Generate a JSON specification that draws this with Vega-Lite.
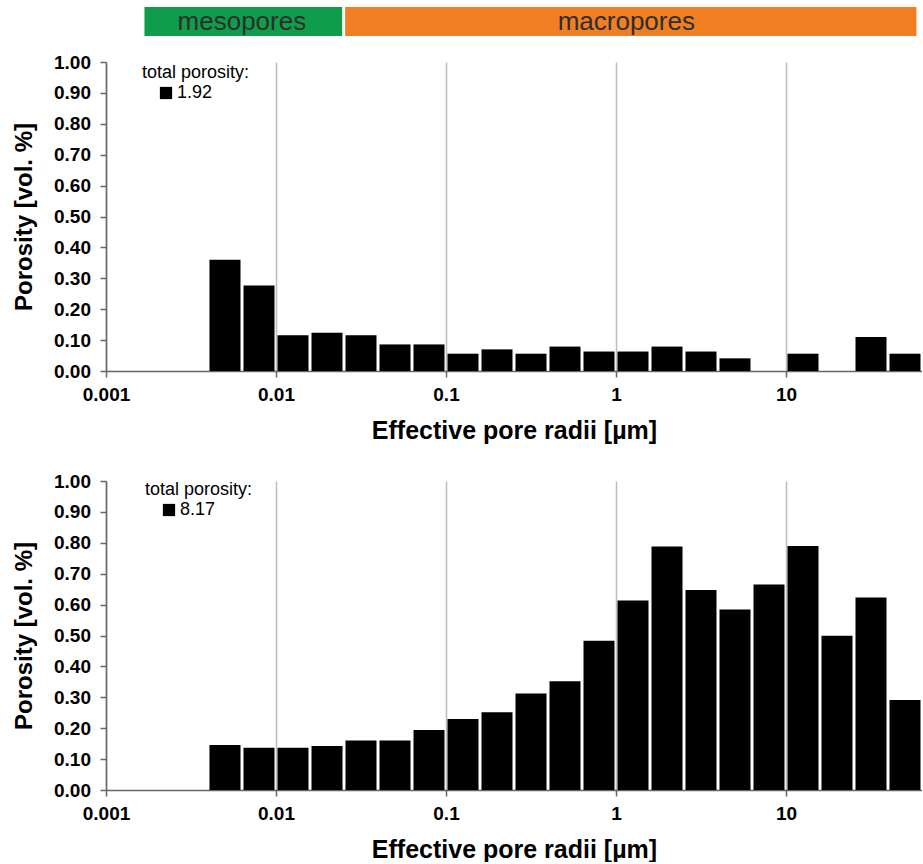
{
  "$schema": "https://vega.github.io/schema/vega-lite/v6.json",
  "background": "white",
  "padding": {"top": 7, "left": 12, "right": 0, "bottom": 0},
  "config": {
    "view": {"stroke": null},
    "font": "Liberation Sans",
    "axis": {
      "domainColor": "#666666",
      "domainWidth": 1.5,
      "tickColor": "#666666",
      "tickWidth": 1.5,
      "tickSize": 6,
      "labelFont": "Liberation Sans",
      "labelFontWeight": "bold",
      "labelFontSize": 19,
      "labelColor": "black",
      "titleFont": "Liberation Sans",
      "titleFontSize": 24,
      "titleFontWeight": "bold",
      "titleColor": "black"
    },
    "legend": {
      "orient": "none",
      "titleFont": "Liberation Sans",
      "titleFontSize": 18,
      "titleFontWeight": "normal",
      "titleColor": "black",
      "titlePadding": 2,
      "labelFont": "Liberation Sans",
      "labelFontSize": 18,
      "labelColor": "black",
      "labelOffset": 2,
      "symbolType": "square",
      "symbolSize": 150,
      "symbolStrokeWidth": 0,
      "symbolOffset": 15,
      "padding": 0
    }
  },
  "datasets": {
    "bands": [
      {"band": "mesopores", "lo": 0.00165, "hi": 0.025, "mid": 0.0063},
      {"band": "macropores", "lo": 0.025, "hi": 59.7, "mid": 1.15}
    ],
    "bins": [
      {"total": "1.92", "lo": 0.00398, "hi": 0.00631, "porosity": 0.360},
      {"total": "1.92", "lo": 0.00631, "hi": 0.01, "porosity": 0.277},
      {"total": "1.92", "lo": 0.01, "hi": 0.01585, "porosity": 0.116},
      {"total": "1.92", "lo": 0.01585, "hi": 0.02512, "porosity": 0.124},
      {"total": "1.92", "lo": 0.02512, "hi": 0.03981, "porosity": 0.116},
      {"total": "1.92", "lo": 0.03981, "hi": 0.0631, "porosity": 0.086},
      {"total": "1.92", "lo": 0.0631, "hi": 0.1, "porosity": 0.086},
      {"total": "1.92", "lo": 0.1, "hi": 0.1585, "porosity": 0.056},
      {"total": "1.92", "lo": 0.1585, "hi": 0.2512, "porosity": 0.070},
      {"total": "1.92", "lo": 0.2512, "hi": 0.3981, "porosity": 0.056},
      {"total": "1.92", "lo": 0.3981, "hi": 0.631, "porosity": 0.079},
      {"total": "1.92", "lo": 0.631, "hi": 1, "porosity": 0.063},
      {"total": "1.92", "lo": 1, "hi": 1.585, "porosity": 0.063},
      {"total": "1.92", "lo": 1.585, "hi": 2.512, "porosity": 0.079},
      {"total": "1.92", "lo": 2.512, "hi": 3.981, "porosity": 0.063},
      {"total": "1.92", "lo": 3.981, "hi": 6.31, "porosity": 0.041},
      {"total": "1.92", "lo": 6.31, "hi": 10, "porosity": 0},
      {"total": "1.92", "lo": 10, "hi": 15.85, "porosity": 0.056},
      {"total": "1.92", "lo": 15.85, "hi": 25.12, "porosity": 0},
      {"total": "1.92", "lo": 25.12, "hi": 39.81, "porosity": 0.110},
      {"total": "1.92", "lo": 39.81, "hi": 63.0957, "porosity": 0.056},
      {"total": "8.17", "lo": 0.00398, "hi": 0.00631, "porosity": 0.146},
      {"total": "8.17", "lo": 0.00631, "hi": 0.01, "porosity": 0.137},
      {"total": "8.17", "lo": 0.01, "hi": 0.01585, "porosity": 0.137},
      {"total": "8.17", "lo": 0.01585, "hi": 0.02512, "porosity": 0.142},
      {"total": "8.17", "lo": 0.02512, "hi": 0.03981, "porosity": 0.160},
      {"total": "8.17", "lo": 0.03981, "hi": 0.0631, "porosity": 0.160},
      {"total": "8.17", "lo": 0.0631, "hi": 0.1, "porosity": 0.194},
      {"total": "8.17", "lo": 0.1, "hi": 0.1585, "porosity": 0.230},
      {"total": "8.17", "lo": 0.1585, "hi": 0.2512, "porosity": 0.252},
      {"total": "8.17", "lo": 0.2512, "hi": 0.3981, "porosity": 0.312},
      {"total": "8.17", "lo": 0.3981, "hi": 0.631, "porosity": 0.352},
      {"total": "8.17", "lo": 0.631, "hi": 1, "porosity": 0.483},
      {"total": "8.17", "lo": 1, "hi": 1.585, "porosity": 0.613},
      {"total": "8.17", "lo": 1.585, "hi": 2.512, "porosity": 0.788},
      {"total": "8.17", "lo": 2.512, "hi": 3.981, "porosity": 0.647},
      {"total": "8.17", "lo": 3.981, "hi": 6.31, "porosity": 0.584},
      {"total": "8.17", "lo": 6.31, "hi": 10, "porosity": 0.665},
      {"total": "8.17", "lo": 10, "hi": 15.85, "porosity": 0.790},
      {"total": "8.17", "lo": 15.85, "hi": 25.12, "porosity": 0.499},
      {"total": "8.17", "lo": 25.12, "hi": 39.81, "porosity": 0.623},
      {"total": "8.17", "lo": 39.81, "hi": 63.0957, "porosity": 0.291}
    ]
  },
  "spacing": 17,
  "resolve": {"scale": {"x": "independent", "y": "independent", "fill": "independent"}, "legend": {"fill": "independent"}},
  "vconcat": [
    {
      "width": 816,
      "height": 29,
      "data": {"name": "bands"},
      "layer": [
        {
          "mark": {"type": "rect", "xOffset": 1.5, "x2Offset": -1.5},
          "encoding": {
            "x": {"field": "lo", "type": "quantitative", "scale": {"type": "log", "domain": [0.001, 63.0957], "nice": false, "padding": 0}, "axis": null},
            "x2": {"field": "hi"},
            "fill": {"field": "band", "type": "nominal", "scale": {"domain": ["mesopores", "macropores"], "range": ["#0f9d4c", "#ef7f22"]}, "legend": null}
          }
        },
        {
          "mark": {"type": "text", "font": "Liberation Sans", "fontSize": 26, "color": "#2e2e2e", "baseline": "middle", "align": "center"},
          "encoding": {
            "x": {"field": "mid", "type": "quantitative", "scale": {"type": "log", "domain": [0.001, 63.0957], "nice": false, "padding": 0}, "axis": null},
            "text": {"field": "band", "type": "nominal"}
          }
        }
      ]
    },
    {
      "spacing": 29,
      "resolve": {"scale": {"x": "independent", "y": "independent", "fill": "independent"}, "legend": {"fill": "independent"}},
      "vconcat": [
        {
          "width": 816,
          "height": 309,
          "data": {"name": "bins"},
          "transform": [{"filter": "datum.total == '1.92'"}],
          "mark": {"type": "bar", "orient": "vertical", "xOffset": 1.5, "x2Offset": -1.5},
          "encoding": {
            "x": {
              "field": "lo", "type": "quantitative",
              "scale": {"type": "log", "domain": [0.001, 63.0957], "nice": false, "padding": 0},
              "axis": {"title": "Effective pore radii [µm]", "titleFontSize": 25, "values": [0.001, 0.01, 0.1, 1, 10], "format": "~g", "grid": true, "gridColor": "#bdbdbd", "gridWidth": 1.5, "labelPadding": 8, "titlePadding": 14, "labelFlush": false}
            },
            "x2": {"field": "hi"},
            "y": {
              "field": "porosity", "type": "quantitative",
              "scale": {"domain": [0, 1], "nice": false, "padding": 0},
              "axis": {"title": "Porosity [vol. %]", "values": [0, 0.1, 0.2, 0.3, 0.4, 0.5, 0.6, 0.7, 0.8, 0.9, 1], "format": ".2f", "grid": false, "labelPadding": 9.5, "titlePadding": 17}
            },
            "y2": {"datum": 0},
            "fill": {"field": "total", "type": "nominal", "scale": {"range": ["black"]}, "legend": {"title": "total porosity:", "legendX": 36, "legendY": 2}}
          }
        },
        {
          "width": 816,
          "height": 309,
          "data": {"name": "bins"},
          "transform": [{"filter": "datum.total == '8.17'"}],
          "mark": {"type": "bar", "orient": "vertical", "xOffset": 1.5, "x2Offset": -1.5},
          "encoding": {
            "x": {
              "field": "lo", "type": "quantitative",
              "scale": {"type": "log", "domain": [0.001, 63.0957], "nice": false, "padding": 0},
              "axis": {"title": "Effective pore radii [µm]", "titleFontSize": 25, "values": [0.001, 0.01, 0.1, 1, 10], "format": "~g", "grid": true, "gridColor": "#bdbdbd", "gridWidth": 1.5, "labelPadding": 8, "titlePadding": 14, "labelFlush": false}
            },
            "x2": {"field": "hi"},
            "y": {
              "field": "porosity", "type": "quantitative",
              "scale": {"domain": [0, 1], "nice": false, "padding": 0},
              "axis": {"title": "Porosity [vol. %]", "values": [0, 0.1, 0.2, 0.3, 0.4, 0.5, 0.6, 0.7, 0.8, 0.9, 1], "format": ".2f", "grid": false, "labelPadding": 9.5, "titlePadding": 17}
            },
            "y2": {"datum": 0},
            "fill": {"field": "total", "type": "nominal", "scale": {"range": ["black"]}, "legend": {"title": "total porosity:", "legendX": 39, "legendY": 0}}
          }
        }
      ]
    }
  ]
}
